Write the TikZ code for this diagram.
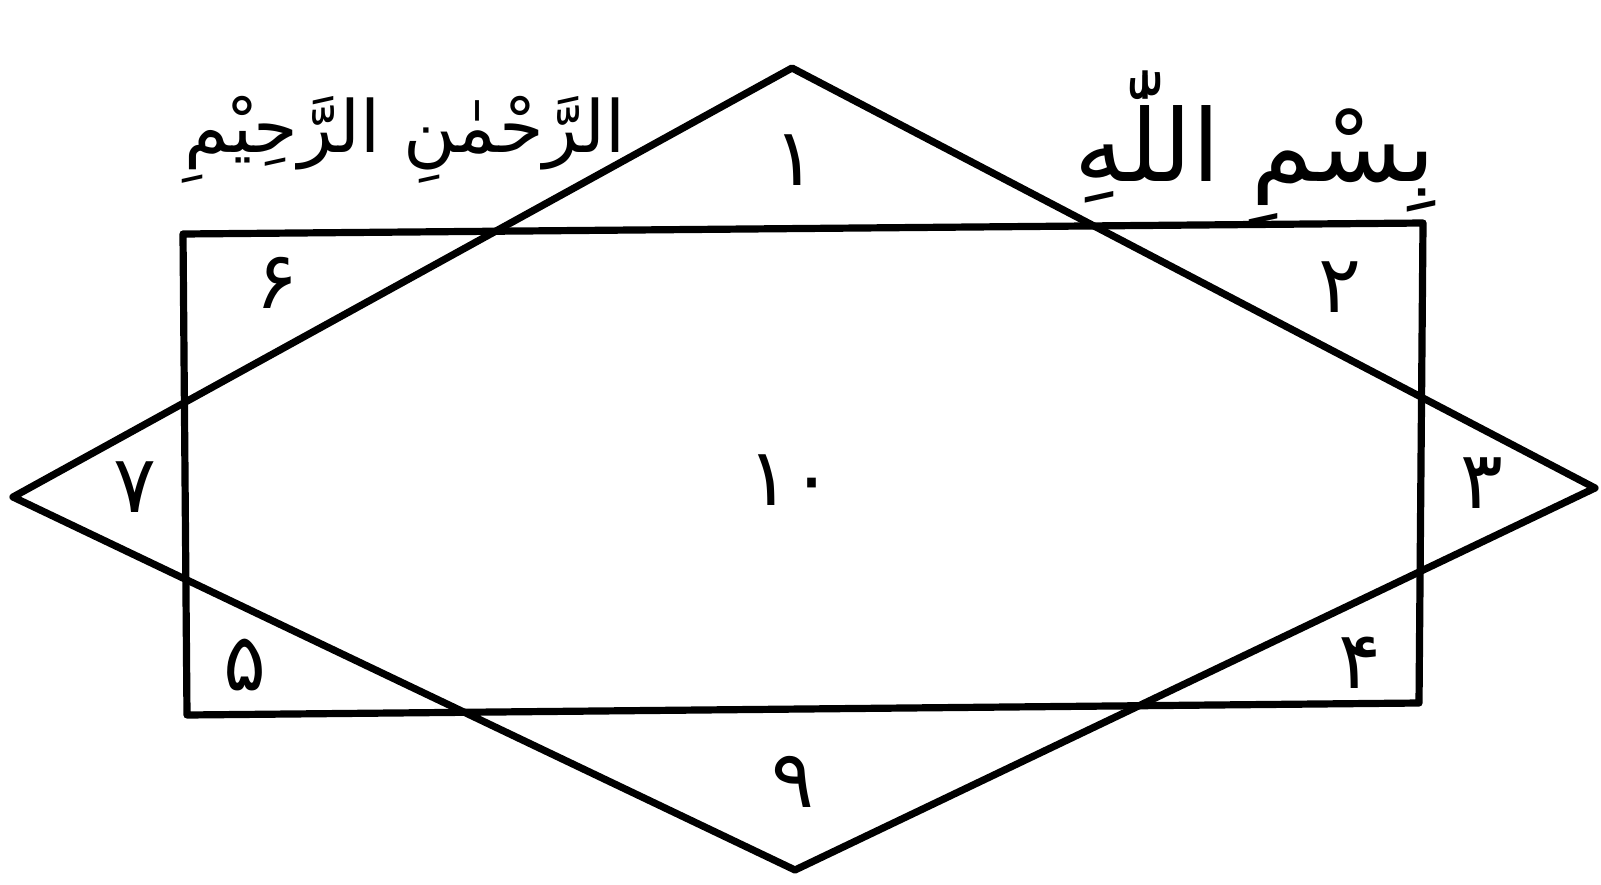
\documentclass[tikz,border=0pt]{standalone}
\usepackage{fontspec}
\usepackage{tikz}
\usetikzlibrary{positioning}
\TeXXeTstate=1
\newfontfamily\arabicfont[Script=Arabic]{DejaVu Sans}
\newcommand{\urd}[1]{{\arabicfont\beginR #1\endR}}
\tikzset{
  edge/.style ={draw,line width=3.6pt,line join=round},
  num/.style  ={inner sep=0pt,font=\fontsize{40}{40}\selectfont},
  title/.style={inner sep=0pt,font=\fontsize{50}{50}\selectfont},
}

\begin{document}
\begin{tikzpicture}[x=0.5pt,y=-0.5pt]
  \useasboundingbox (0,0) rectangle (1601,884);
  % rhombus
  \coordinate (top) at (792,68);
  \coordinate (rgt) at (1595,488);
  \coordinate (bot) at (795,870);
  \coordinate (lft) at (13,497);
  % rectangle
  \coordinate (tl) at (183,234);
  \coordinate (tr) at (1423,223);
  \coordinate (br) at (1419,703);
  \coordinate (bl) at (187,715);
  \draw[edge] (top)--(rgt)--(bot)--(lft)--cycle;
  \draw[edge] (tl)--(tr)--(br)--(bl)--cycle;
  % numbers
  \node[num] (n1)  at (795,160) {\urd{۱}};
  \node[num] (n2)  at (1340,287) {\urd{۲}};
  \node[num] (n3)  at (1482,483) {\urd{۳}};
  \node[num] (n4)  at (1360,663) {\urd{۴}};
  \node[num] (n5)  at (245,665) {\urd{۵}};
  \node[num] (n6)  at (277,283) {\urd{۶}};
  \node[num] (n7)  at (135,487) {\urd{۷}};
  \node[num] (n9)  at (793,782) {\urd{۹}};
  \node[num] (n10) at (790,480) {\urd{۱۰}};
  % heading
  \node[title] (bism) at (1255,148) {\urd{بِسْمِ اللّٰهِ}};
  \node[title,font=\fontsize{36}{36}\selectfont] (rahm) at (405,140) {\urd{الرَّحْمٰنِ الرَّحِیْمِ}};
\end{tikzpicture}
\end{document}
